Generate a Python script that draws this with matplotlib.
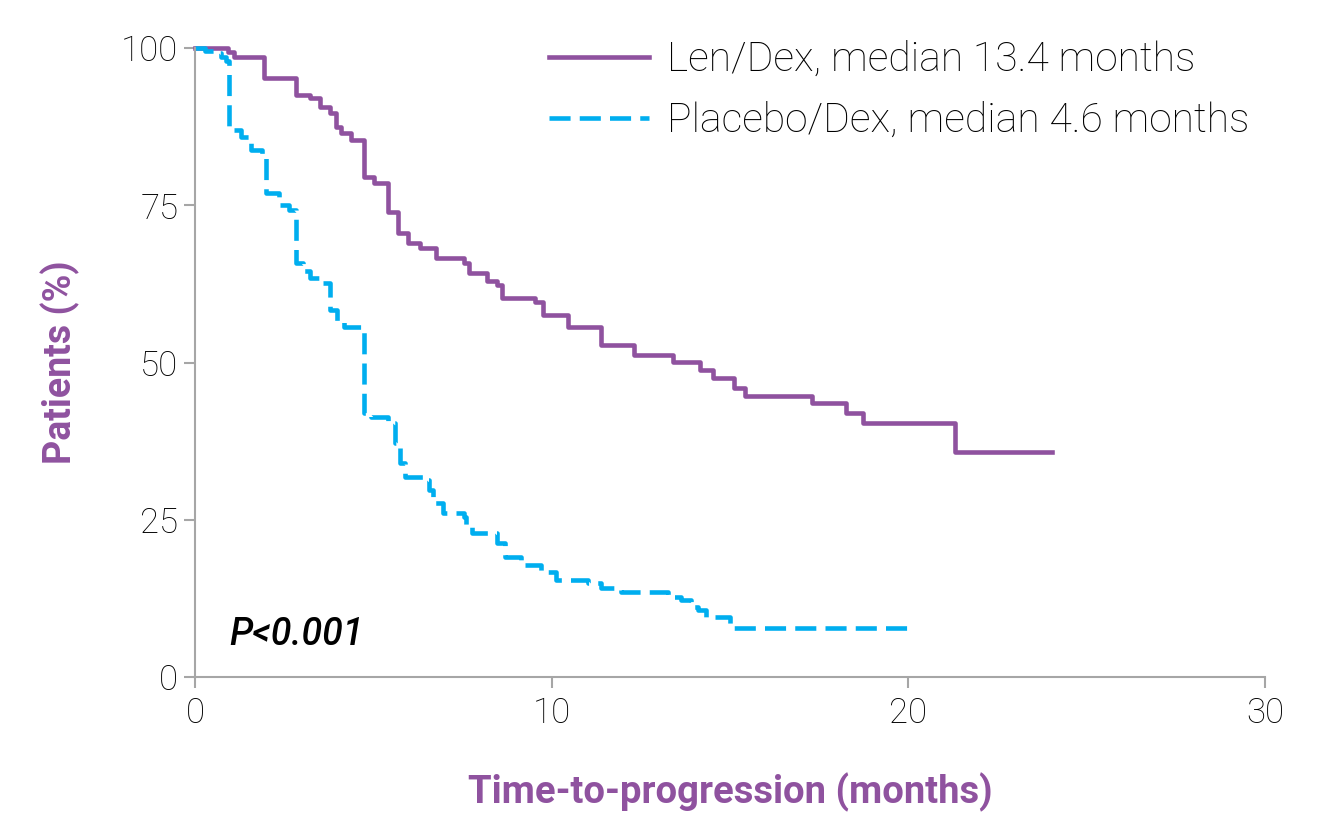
import matplotlib
matplotlib.use("Agg")
import matplotlib.pyplot as plt

# Kaplan-Meier style step data (months, % of patients)
len_t = [0, 0.92, 1.09, 1.93, 2.82, 3.22, 3.51, 3.79, 3.94, 4.08, 4.37, 4.74, 5.03,
         5.40, 5.69, 5.98, 6.32, 6.75, 7.53, 7.67, 8.19, 8.48, 8.62, 9.54, 9.77,
         10.45, 11.37, 12.31, 13.40, 14.15, 14.51, 15.10, 15.43, 17.30, 18.25,
         18.72, 21.32, 24.02]
len_s = [100, 99.3, 98.6, 95.2, 92.5, 92.0, 90.6, 89.7, 87.4, 86.5, 85.4, 79.5, 78.5,
         74.0, 70.6, 69.0, 68.2, 66.6, 65.8, 64.2, 63.0, 62.3, 60.2, 59.6, 57.5,
         55.6, 52.8, 51.2, 50.1, 48.8, 47.5, 46.0, 44.6, 43.5, 42.0,
         40.4, 35.8, 35.8]

pla_t = [0, 0.29, 0.52, 0.72, 0.86, 0.95, 1.29, 1.58, 1.87, 1.98, 2.36, 2.64, 2.82,
         3.02, 3.22, 3.53, 3.79, 3.97, 4.17, 4.74, 4.94, 5.40, 5.60, 5.75, 5.89,
         6.41, 6.55, 6.67, 6.95, 7.53, 7.61, 7.76, 8.48, 8.68, 9.14, 9.71, 10.11,
         11.03, 11.39, 11.95, 13.26, 13.62, 13.90, 14.09, 14.32, 15.01, 20.17]
pla_s = [100, 99.6, 99.2, 98.5, 98.0, 87.0, 85.9, 83.8, 83.0, 77.0, 75.0, 74.2, 65.8,
         64.5, 63.4, 62.6, 58.3, 56.4, 55.6, 42.0, 41.3, 40.4, 37.2, 34.0, 31.8,
         31.3, 29.7, 27.7, 26.0, 25.4, 23.8, 22.9, 21.3, 19.1, 17.8, 16.7, 15.4,
         14.9, 14.1, 13.5, 12.7, 12.2, 11.1, 10.7, 9.5, 7.8, 7.8]

x_ticks = [0, 10, 20, 30]
y_ticks = [0, 25, 50, 75, 100]

purple = "#8f529f"
blue = "#00aeef"
grey = "#a6a6a6"

plt.rcParams['font.family'] = ['Roboto', 'DejaVu Sans']

fig = plt.figure(figsize=(13.26, 8.33), dpi=100)
ax = fig.add_axes([195/1326, 1-677/833, 1070/1326, 629/833])

ax.plot(len_t, len_s, drawstyle='steps-post', color=purple, lw=3.3,
        clip_on=False, label='Len/Dex, median 13.4 months')
ax.plot(pla_t, pla_s, drawstyle='steps-post', color=blue, lw=3.3,
        dashes=(4.6, 2.0), clip_on=False, label='Placebo/Dex, median 4.6 months')

ax.set_xlim(0, 30)
ax.set_ylim(0, 100)
ax.set_xticks(x_ticks)
ax.set_yticks(y_ticks)

for s in ['top', 'right']:
    ax.spines[s].set_visible(False)
for s in ['left', 'bottom']:
    ax.spines[s].set_color(grey)
    ax.spines[s].set_linewidth(1.5)
ax.tick_params(axis='both', colors=grey, length=8, width=1.5, labelcolor='black',
               labelsize=25)
ax.tick_params(axis='x', pad=6)
ax.tick_params(axis='y', pad=4)
for lab in ax.get_xticklabels() + ax.get_yticklabels():
    lab.set_fontweight('light')

ax.set_ylabel('Patients (%)', color=purple, fontsize=27, fontweight='bold', labelpad=30)
ax.set_xlabel('Time-to-progression (months)', color=purple, fontsize=27.5,
              fontweight='bold', labelpad=31)

ax.text(0.95, 6.7, 'P<0.001', fontsize=27, fontstyle='italic', fontweight='medium',
        va='center', ha='left')

leg = ax.legend(loc='upper right', bbox_to_anchor=(1.02, 1.07), frameon=False,
                fontsize=29.4, handlelength=2.45, handletextpad=0.45, labelspacing=0.55)
for t in leg.get_texts():
    t.set_fontweight('light')

fig.savefig('out.png', dpi=100)
